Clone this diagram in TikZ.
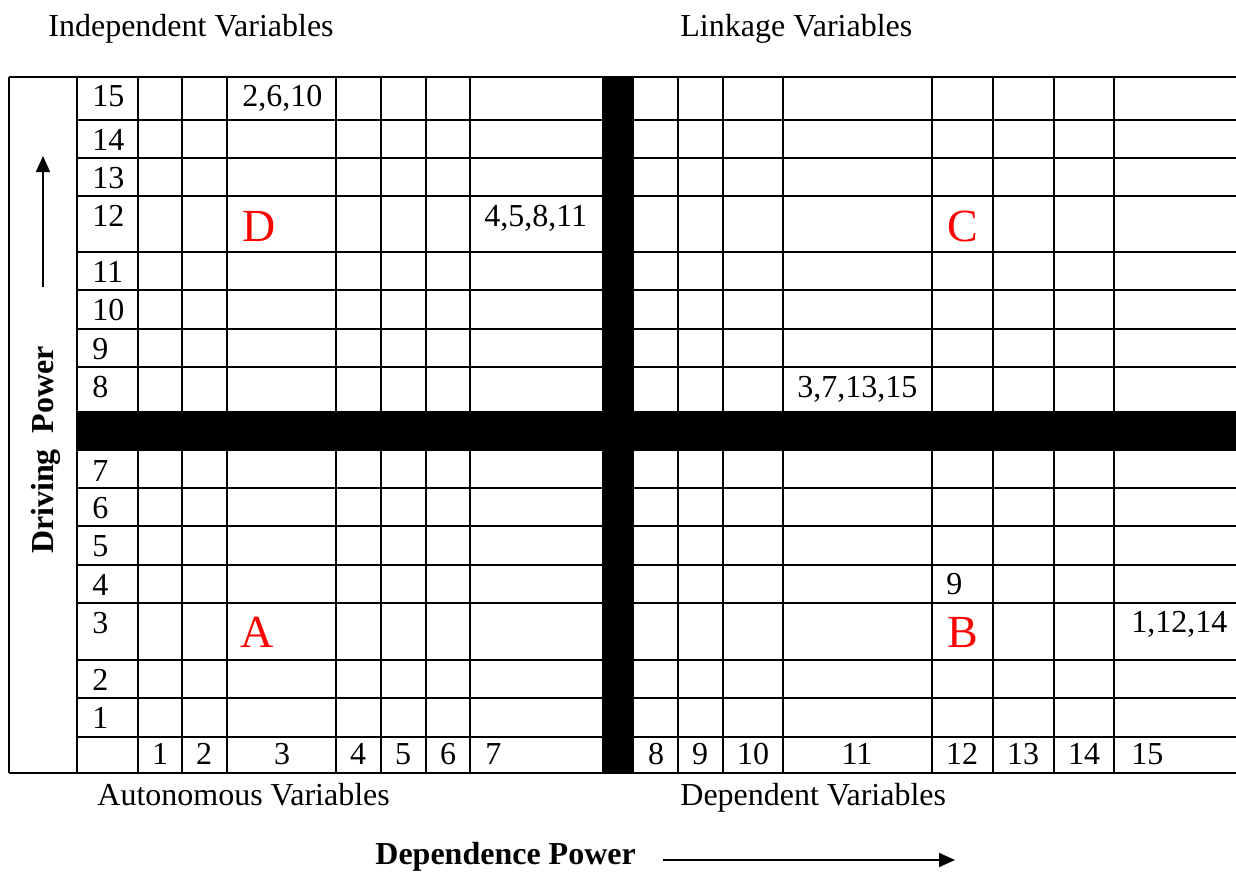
\documentclass[tikz,border=0pt]{standalone}
\usepackage{fontspec}
\setmainfont{Liberation Serif}
\usetikzlibrary{arrows.meta}

\begin{document}
\begin{tikzpicture}[x=0.5pt,y=-0.5pt,font=\fontsize{16}{19}\selectfont,
 rule/.style={line width=1.2pt},
 txt/.style={anchor=base west,inner sep=0pt},
 num/.style={anchor=base,inner sep=0pt},
 zone/.style={anchor=base west,inner sep=0pt,text=red,font=\fontsize{23}{27}\selectfont},
 head/.style={inner sep=0pt,font=\bfseries\fontsize{16}{19}\selectfont},
 axis/.style={-{Triangle[length=8pt,width=7pt]},line width=0.8pt}]
\useasboundingbox (0,0) rectangle (1236,872);
% grid
\draw[rule] (9,77) -- (1236,77);
\draw[rule] (9,773) -- (1236,773);
\draw[rule] (9,77) -- (9,773);
\foreach \x in {77,138,182,227,336,381,426,470,678,723,783,932,993,1054,1114}
  \draw[rule] (\x,77) -- (\x,773);
\foreach \y in {120,158,196,252,290,329,367,488,526,565,603,660,698,737}
  \draw[rule] (77,\y) -- (1236,\y);
\fill (602,77) rectangle (634,773);
\fill (77,411) rectangle (1236,451);
% row and column numbers
\foreach \n/\y in {15/77,14/120,13/158,12/196,11/252,10/290,9/329,8/367,
                   7/451,6/488,5/526,4/565,3/603,2/660,1/698}
  \node[txt] (r\n) at (92,\y+30) {\n};
\foreach \n/\x in {1/160,2/204,3/282,4/358,5/403,6/448,8/656,9/700,
                   10/753,11/857,12/962,13/1023,14/1084}
  \node[num] (c\n) at (\x,764) {\n};
\node[txt] (c7) at (485,764) {7};
\node[txt] (c15) at (1131,764) {15};
% variables in cells
\node[txt] (v1) at (242,107) {2,6,10};
\node[txt] (v2) at (484,226) {4,5,8,11};
\node[txt] (v3) at (797,397) {3,7,13,15};
\node[txt] (v4) at (946,594) {9};
\node[txt] (v5) at (1131,632) {1,12,14};
% quadrants
\node[zone] (qD) at (242,241) {D};
\node[zone] (qC) at (947,241) {C};
\node[zone] (qA) at (240,647) {A};
\node[zone] (qB) at (947,647) {B};
% cluster names
\node[txt] (indep) at (48,37) {Independent Variables};
\node[txt] (link) at (680,37) {Linkage Variables};
\node[txt] (auto) at (97,805) {Autonomous Variables};
\node[txt] (dept) at (680,805) {Dependent Variables};
% axes
\node[head,anchor=base,rotate=90] (drv) at (53,450) {Driving\ \ Power};
\node[head,anchor=base west] (dep) at (375,864) {Dependence Power};
\coordinate (dr0) at (43,287);
\coordinate (dr1) at (43,156);
\coordinate (dp0) at (663,860);
\coordinate (dp1) at (955,860);
\draw[axis] (dr0) -- (dr1);
\draw[axis] (dp0) -- (dp1);
\end{tikzpicture}
\end{document}
